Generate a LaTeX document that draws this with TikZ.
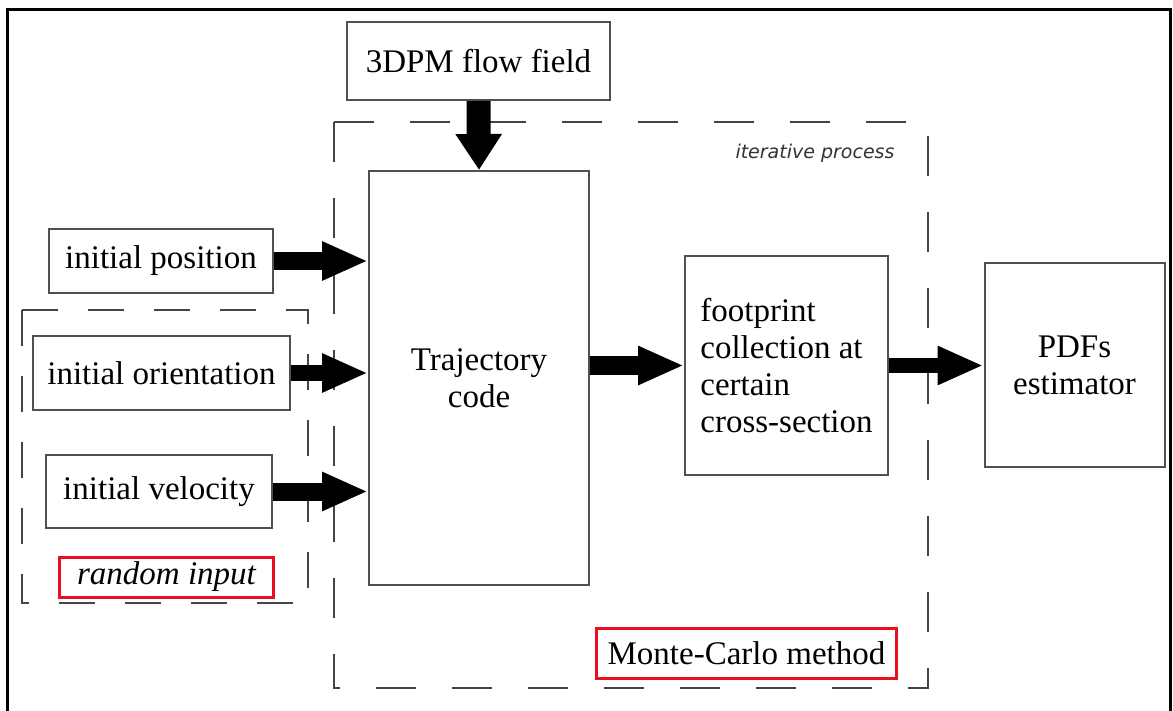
\documentclass[tikz,border=0pt]{standalone}
\usepackage{fontspec}
\setmainfont{Liberation Serif}
\newfontfamily\notefont{DejaVu Sans}
\usetikzlibrary{arrows.meta}
\definecolor{boxgray}{HTML}{505050}
\definecolor{dashgray}{HTML}{454545}
\definecolor{markred}{HTML}{E8101E}
\tikzset{
  blk/.style={draw=boxgray, line width=2pt, fill=white, inner sep=0pt,
    font=\fontsize{33}{37}\selectfont, align=center},
  redlabel/.style={draw=markred, line width=3pt, fill=white, inner sep=0pt,
    font=\fontsize{33}{37}\selectfont},
  dashbox/.style={draw=dashgray, line width=2.5pt, dash pattern=on 40pt off 36pt},
  bigarrow/.style={line width=18pt, -{Triangle[width=36pt,length=46pt]}},
}
\begin{document}
\begin{tikzpicture}[x=1pt,y=-1pt]
\useasboundingbox (0,0) rectangle (1173,711);
\fill[white] (0,0) rectangle (1173,711);
% outer frame
\draw[line width=3pt, black] (7,714) -- (7,10) -- (1170,10) -- (1170,714);
% dashed grouping boxes
\draw[dashbox] (334,122) rectangle (928,688);
\draw[dashbox, dash pattern=on 36pt off 30pt] (22,310) rectangle (308,603);
% nodes
\node[blk, minimum width=263pt, minimum height=78pt] (flow) at (478.5,61) {3DPM flow field};
\node[blk, minimum width=220pt, minimum height=414pt] (traj) at (479,378) {Trajectory\\code};
\node[blk, minimum width=224pt, minimum height=64pt] (pos) at (161,261) {initial position};
\node[blk, minimum width=257pt, minimum height=74pt] (orient) at (161.5,373) {initial orientation};
\node[blk, minimum width=226pt, minimum height=73pt] (vel) at (159,491.5) {initial velocity};
\node[blk, minimum width=203pt, minimum height=219pt, align=left] (foot) at (786.5,365.5)
  {footprint\\collection at\\certain\\cross-section};
\node[blk, minimum width=180pt, minimum height=203pt] (pdf) at (1074.5,365) {PDFs\\estimator};
\node[redlabel, minimum width=214pt, minimum height=40pt] (rand) at (166.5,577) {\itshape random input};
\node[redlabel, minimum width=300pt, minimum height=50pt] (mc) at (746.5,653.5) {Monte-Carlo method};
\node[font=\notefont\itshape\fontsize{19}{22}\selectfont, text=black!80] (iter) at (815,153) {iterative process};
% arrows
\draw[line width=24pt, -{Triangle[width=44pt,length=36pt]}] (flow.south) -- (traj.north);
\draw[bigarrow] (pos.east) -- (pos.east -| traj.west);
\draw[bigarrow, line width=15pt] (orient.east) -- (orient.east -| traj.west);
\draw[bigarrow] (vel.east) -- (vel.east -| traj.west);
\draw[bigarrow] (foot.west -| traj.east) -- (foot.west);
\draw[bigarrow, line width=15pt] (foot.east) -- (foot.east -| pdf.west);
\end{tikzpicture}
\end{document}
